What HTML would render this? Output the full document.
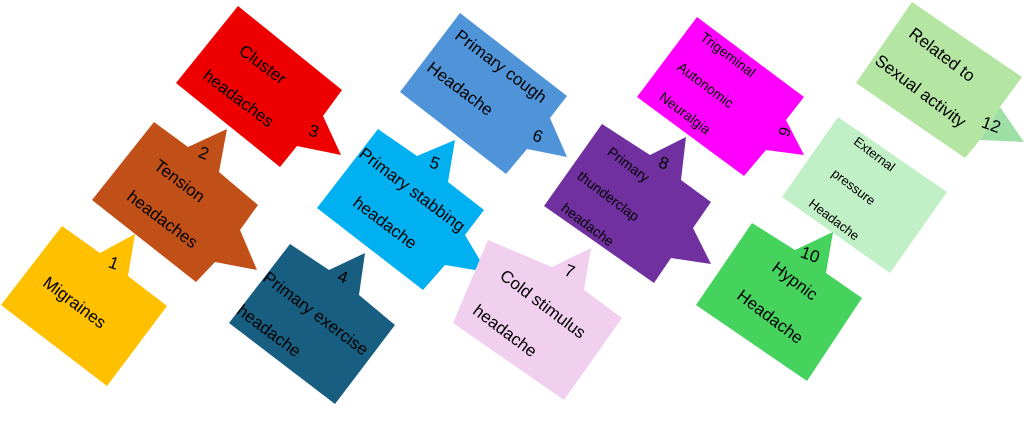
<!DOCTYPE html>
<html><head><meta charset="utf-8"><style>
html,body{margin:0;padding:0;background:#fff;}
svg{display:block;}
text{font-family:"Liberation Sans",sans-serif;fill:#000;}
</style></head><body>
<svg width="1024" height="425" viewBox="0 0 1024 425" xmlns="http://www.w3.org/2000/svg">
<polygon fill="#FFC000" points="62,226 100,253 135,234 128,276 167,306 107,386 1,305"/>
<polygon fill="#C05018" points="154,122 188,147 227,129 219,172 258,205 240,230 257,270 215,262 196,282 92,200"/>
<polygon fill="#EE0000" points="238,6 342,90 323,116 341,155 297,146 280,167 176,83"/>
<polygon fill="#175E80" points="290,244 329,270 365,253 359,295 395,325 335,404 229,323"/>
<polygon fill="#00B0F0" points="378,129 417,156 455,140 448,182 484,210 465,235 487,272 445,265 423,290 317,208"/>
<polygon fill="#4F94D8" points="460,13 567,96 550,118 567,157 527,149 506,174 400,92"/>
<polygon fill="#F0CFEF" points="488,240 552,267 591,248 584,290 622,318 564,400 453,323"/>
<polygon fill="#7030A0" points="602,124 650,155 686,137 681,180 711,202 693,228 711,264 671,258 654,283 544,206"/>
<polygon fill="#FF00FF" points="697,17 804,97 786,120 804,155 766,150 744,176 637,97"/>
<polygon fill="#C2F0C6" points="838,117 947,192 890,273 782,197"/>
<polygon fill="#46D35D" points="752,223 795,250 833,232 826,273 862,298 807,381 696,305"/>
<polygon fill="#9EDFA5" points="1000,107 1024,142 980,140"/>
<polygon fill="#B4E5A2" points="912,2 1022,77 1000,107 980,140 965,158 856,83"/>

<g font-size="17">
<text transform="translate(50,274) rotate(37)" dy="0.8em">Migraines</text>
<text transform="translate(112,254) rotate(20)" dy="0.8em">1</text>
<text transform="translate(161,157) rotate(37)" dy="0.8em">Tension</text>
<text transform="translate(134,188) rotate(37)" dy="0.8em">headaches</text>
<text transform="translate(202,144) rotate(20)" dy="0.8em">2</text>
<text transform="translate(246,42) rotate(37)" dy="0.8em">Cluster</text>
<text transform="translate(210,67) rotate(37)" dy="0.8em">headaches</text>
<text transform="translate(312,122) rotate(20)" dy="0.8em">3</text>
<text transform="translate(270,269) rotate(37)" dy="0.8em">Primary exercise</text>
<text transform="translate(244,302) rotate(37)" dy="0.8em">headache</text>
<text transform="translate(341,268) rotate(20)" dy="0.8em">4</text>
<text transform="translate(366,145) rotate(37)" dy="0.8em">Primary stabbing</text>
<text transform="translate(360,194) rotate(37)" dy="0.8em">headache</text>
<text transform="translate(433,154) rotate(20)" dy="0.8em">5</text>
<text transform="translate(462,27) rotate(37)" dy="0.8em">Primary cough</text>
<text transform="translate(434,59) rotate(37)" dy="0.8em">Headache</text>
<text transform="translate(536,127) rotate(20)" dy="0.8em">6</text>
<text transform="translate(507,267) rotate(37)" dy="0.8em">Cold stimulus</text>
<text transform="translate(480,302) rotate(37)" dy="0.8em">headache</text>
<text transform="translate(568,262) rotate(20)" dy="0.8em">7</text>
<text transform="translate(662,154) rotate(20)" dy="0.8em">8</text>
<text transform="translate(779,259) rotate(37)" dy="0.8em">Hypnic</text>
<text transform="translate(744,287) rotate(37)" dy="0.8em">Headache</text>
<text transform="translate(804,244) rotate(20)" dy="0.8em">10</text>
<text transform="translate(916,25) rotate(37)" dy="0.8em">Related to</text>
<text transform="translate(882,52) rotate(37)" dy="0.8em">Sexual activity</text>
<text transform="translate(985,114) rotate(20)" dy="0.8em">12</text>
</g>
<g font-size="14">
<text transform="translate(613,145) rotate(37)" dy="0.8em">Primary</text>
<text transform="translate(583,169) rotate(37)" dy="0.8em">thunderclap</text>
<text transform="translate(567,201) rotate(37)" dy="0.8em">headache</text>
<text transform="translate(706,30) rotate(37)" dy="0.8em">Trigeminal</text>
<text transform="translate(683,60) rotate(37)" dy="0.8em">Autonomic</text>
<text transform="translate(665,90) rotate(37)" dy="0.8em">Neuralgia</text>
<text transform="translate(793,130) rotate(110)" dy="0.8em" font-size="16">6</text>
</g>
<g font-size="13">
<text transform="translate(859,135) rotate(37)" dy="0.8em">External</text>
<text transform="translate(837,167) rotate(37)" dy="0.8em">pressure</text>
<text transform="translate(814,197) rotate(37)" dy="0.8em">Headache</text>
</g>
</svg>
</body></html>
